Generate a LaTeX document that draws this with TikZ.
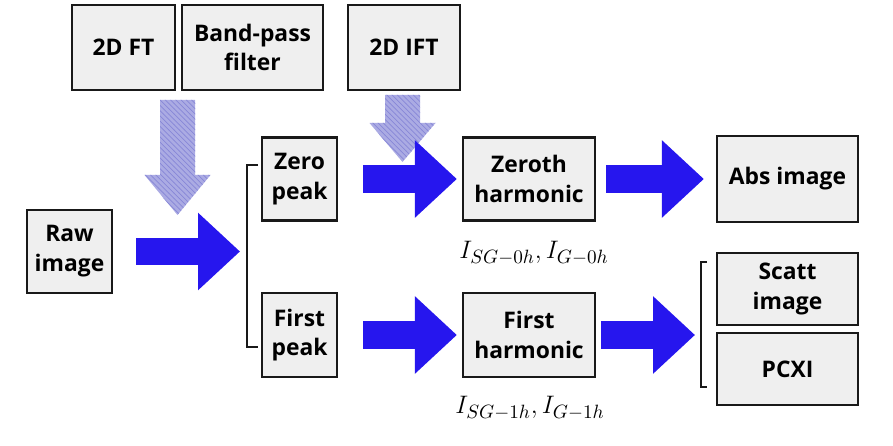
\documentclass[tikz,border=0pt]{standalone}
\usepackage[no-math]{fontspec}
\setmainfont{Open Sans}
\usetikzlibrary{arrows.meta,patterns}

\definecolor{boxgray}{RGB}{239,239,239}
\definecolor{arrowblue}{RGB}{38,22,238}
\definecolor{hatchblue}{RGB}{135,135,215}

\tikzset{
  block/.style={draw=black!90, fill=boxgray, line width=1.3pt, align=center,
    inner sep=0pt, font=\fontsize{13}{17}\selectfont\bfseries},
  fatarrow/.style={draw=arrowblue, line width=0.56cm,
    -{Triangle[length=0.84cm,width=1.5cm]}},
  hatchfill/.style={fill=hatchblue!70},
  hatchlines/.style={pattern=north west lines, pattern color=hatchblue},
  brace/.style={draw=black!90, line width=1pt},
  lbl/.style={font=\fontsize{15}{17}\selectfont}
}

% down arrow: centre x, top y, shaft bottom y, tip y
\newcommand{\hatchdown}[4]{%
  \foreach \f in {hatchfill,hatchlines}
    \fill[\f] (#1-17.5,#2) -- (#1+17.5,#2) -- (#1+17.5,#3) -- (#1+33,#3)
      -- (#1,#4) -- (#1-33,#3) -- (#1-17.5,#3) -- cycle;}

\begin{document}
\begin{tikzpicture}[x=0.02cm,y=-0.02cm]
  \useasboundingbox (0,0) rectangle (893,446);

  % filters on top
  \node[block, minimum width=2.06cm, minimum height=1.7cm] (ft) at (123.5,47.5) {2D FT};
  \node[block, minimum width=2.82cm, minimum height=1.7cm] (bp) at (252.5,47.5) {Band-pass\\filter};
  \node[block, minimum width=2.24cm, minimum height=1.7cm] (ift) at (404,47.5) {2D IFT};

  % main chain
  \node[block, minimum width=1.7cm, minimum height=1.66cm] (raw) at (69.5,251.5) {Raw\\image};
  \node[block, minimum width=1.5cm, minimum height=1.66cm] (zp) at (299.5,179) {Zero\\peak};
  \node[block, minimum width=1.5cm, minimum height=1.68cm] (fp) at (299.5,335) {First\\peak};
  \node[block, minimum width=2.64cm, minimum height=1.66cm] (zh) at (529,179) {Zeroth\\harmonic};
  \node[block, minimum width=2.64cm, minimum height=1.68cm] (fh) at (529,335) {First\\harmonic};
  \node[block, minimum width=2.82cm, minimum height=1.72cm] (abs) at (787.5,179) {Abs image};
  \node[block, minimum width=2.82cm, minimum height=1.44cm] (sc) at (787.5,289) {Scatt\\image};
  \node[block, minimum width=2.82cm, minimum height=1.44cm] (pcxi) at (787.5,369) {PCXI};

  \node[lbl] (zlab) at (534,253) {$I_{SG-0h}, I_{G-0h}$};
  \node[lbl] (flab) at (530,408) {$I_{SG-1h}, I_{G-1h}$};

  % brackets
  \coordinate (lbr) at (247,252);
  \coordinate (rbr) at (701,335);
  \draw[brace] (258,165) -- (247,165) -- (247,347) -- (258,347);
  \draw[brace] (707,262) -- (701,262) -- (701,387) -- (707,387);

  % hatched arrows
  \hatchdown{177.5}{100}{175}{215}
  \hatchdown{402.5}{95}{123}{162}

  % blue arrows
  \draw[fatarrow, shorten <=0.46cm, shorten >=0.14cm] (raw.east) -- (raw.east -| lbr);
  \draw[fatarrow, shorten <=0.5cm, shorten >=0.1cm] (zp) -- (zh);
  \draw[fatarrow, shorten <=0.2cm, shorten >=0.24cm] (zh) -- (abs);
  \draw[fatarrow, shorten <=0.5cm, shorten >=0.1cm] (fp) -- (fh);
  \draw[fatarrow, shorten <=0.1cm, shorten >=0.12cm] (fh.east) -- (fh.east -| rbr);
\end{tikzpicture}
\end{document}
